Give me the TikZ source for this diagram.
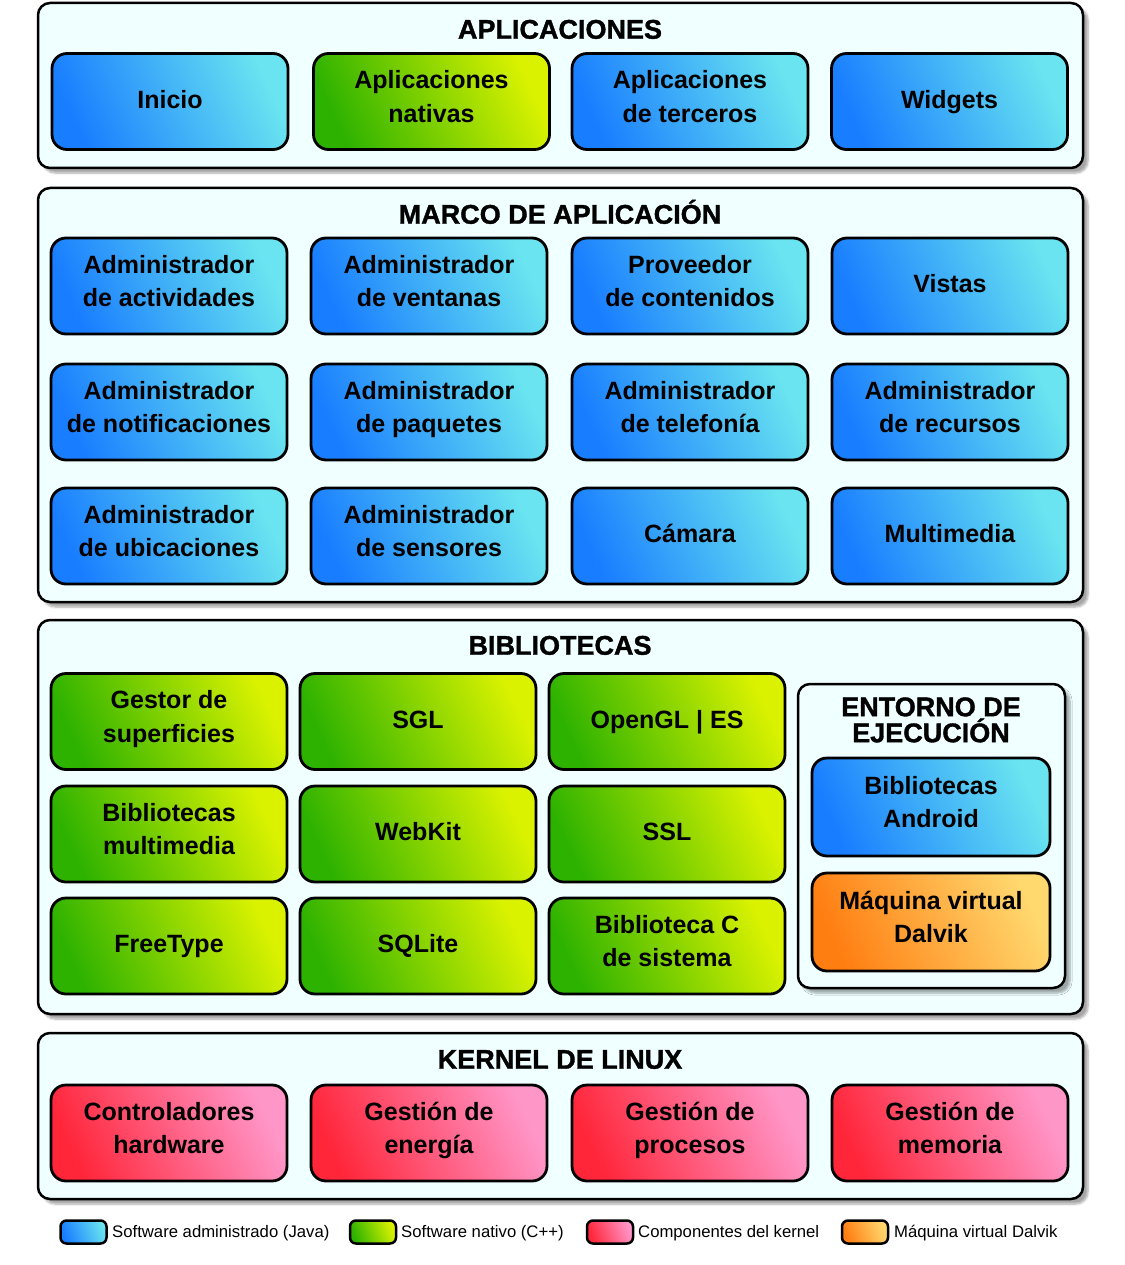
\documentclass[tikz,border=0pt]{standalone}
\usepackage{fontspec}
\setmainfont{Liberation Sans}
\newfontfamily\titlefont[BoldFeatures={FakeBold=1.3}]{Liberation Sans}
\usetikzlibrary{shadows.blur}
\newcommand\boxstrut{\rule[-10.05pt]{0pt}{33.5pt}}
\definecolor{bluedark}{RGB}{25,125,255}
\definecolor{bluelight}{RGB}{105,228,240}
\definecolor{greendark}{RGB}{45,178,0}
\definecolor{greenlight}{RGB}{218,242,0}
\definecolor{reddark}{RGB}{255,38,58}
\definecolor{redlight}{RGB}{255,150,200}
\definecolor{orangedark}{RGB}{255,126,18}
\definecolor{orangelight}{RGB}{255,216,110}
\definecolor{panelfill}{RGB}{240,255,255}
\tikzset{
  panel/.style={draw=black, line width=2.5pt, rounded corners=12pt, fill=panelfill,
    blur shadow={shadow xshift=5pt, shadow yshift=-5pt, shadow opacity=35, shadow blur steps=6}},
  comp/.style={draw=black, line width=2.8pt, rounded corners=15pt, minimum width=236pt,
    minimum height=96pt, align=center, inner sep=0pt,
    font=\fontsize{25}{33.5}\selectfont\bfseries,
    execute at begin node=\boxstrut, execute at end node=\boxstrut},
  javabox/.style={comp, top color=bluelight, bottom color=bluedark, shading angle=-65},
  nativebox/.style={comp, top color=greenlight, bottom color=greendark, shading angle=-65},
  kernelbox/.style={comp, top color=redlight, bottom color=reddark, shading angle=-65},
  dalvikbox/.style={comp, top color=orangelight, bottom color=orangedark, shading angle=-65},
  paneltitle/.style={font=\titlefont\fontsize{27}{26}\selectfont\bfseries, align=center, inner sep=0pt, anchor=base},
  swatch/.style={draw=black, line width=2.5pt, rounded corners=6pt, minimum width=46pt,
    minimum height=23pt, inner sep=0pt},
  legtext/.style={anchor=west, inner sep=0pt, font=\fontsize{16.7}{18}\selectfont}
}
\begin{document}
\begin{tikzpicture}[x=1pt,y=-1pt]
\useasboundingbox (0,0) rectangle (1124,1265);
% panels
\node[panel, minimum width=1045pt, minimum height=165pt] (papp) at (560.5,85.5) {};
\node[panel, minimum width=1045pt, minimum height=414pt] (pfw) at (560.5,395) {};
\node[panel, minimum width=1045pt, minimum height=394pt] (plib) at (560.5,817) {};
\node[panel, minimum width=1045pt, minimum height=166pt] (pker) at (560.5,1116) {};
\node[panel, minimum width=267pt, minimum height=304pt] (prt) at (931.5,836) {};
% titles
\node[paneltitle] (tapp) at (560,38.7) {APLICACIONES};
\node[paneltitle] (tfw) at (560,223.7) {MARCO DE APLICACIÓN};
\node[paneltitle] (tlib) at (560,654.7) {BIBLIOTECAS};
\node[paneltitle] (tker) at (560,1068.7) {KERNEL DE LINUX};
\node[paneltitle, anchor=base] (trt1) at (931,716.2) {ENTORNO DE};
\node[paneltitle, anchor=base] (trt2) at (931,742.2) {EJECUCIÓN};
% applications
\node[javabox] (a1) at (170,101.5) {Inicio};
\node[nativebox] (a2) at (431.5,101.5) {Aplicaciones\\nativas};
\node[javabox] (a3) at (690,101.5) {Aplicaciones\\de terceros};
\node[javabox] (a4) at (949.5,101.5) {Widgets};
% framework
\node[javabox] (f1) at (169,286) {Administrador\\de actividades};
\node[javabox] (f2) at (429,286) {Administrador\\de ventanas};
\node[javabox] (f3) at (690,286) {Proveedor\\de contenidos};
\node[javabox] (f4) at (950,286) {Vistas};
\node[javabox] (f5) at (169,412) {Administrador\\de notificaciones};
\node[javabox] (f6) at (429,412) {Administrador\\de paquetes};
\node[javabox] (f7) at (690,412) {Administrador\\de telefonía};
\node[javabox] (f8) at (950,412) {Administrador\\de recursos};
\node[javabox] (f9) at (169,536) {Administrador\\de ubicaciones};
\node[javabox] (f10) at (429,536) {Administrador\\de sensores};
\node[javabox] (f11) at (690,536) {Cámara};
\node[javabox] (f12) at (950,536) {Multimedia};
% libraries
\node[nativebox] (l1) at (169,721.5) {Gestor de\\superficies};
\node[nativebox] (l2) at (418,721.5) {SGL};
\node[nativebox] (l3) at (667,721.5) {OpenGL | ES};
\node[nativebox] (l4) at (169,834) {Bibliotecas\\multimedia};
\node[nativebox] (l5) at (418,834) {WebKit};
\node[nativebox] (l6) at (667,834) {SSL};
\node[nativebox] (l7) at (169,946) {FreeType};
\node[nativebox] (l8) at (418,946) {SQLite};
\node[nativebox] (l9) at (667,946) {Biblioteca C\\de sistema};
% runtime
\node[javabox, minimum width=238pt, minimum height=98pt] (r1) at (931,807) {Bibliotecas\\Android};
\node[dalvikbox, minimum width=238pt, minimum height=98pt] (r2) at (931,922) {Máquina virtual\\Dalvik};
% kernel
\node[kernelbox] (k1) at (169,1133) {Controladores\\hardware};
\node[kernelbox] (k2) at (429,1133) {Gestión de\\energía};
\node[kernelbox] (k3) at (690,1133) {Gestión de\\procesos};
\node[kernelbox] (k4) at (950,1133) {Gestión de\\memoria};
% legend
\node[swatch, top color=bluelight, bottom color=bluedark, shading angle=-70] (s1) at (83.5,1232) {};
\node[legtext] (t1) at (112,1233.5) {Software administrado (Java)};
\node[swatch, top color=greenlight, bottom color=greendark, shading angle=-70] (s2) at (373,1232) {};
\node[legtext] (t2) at (401,1233.5) {Software nativo (C++)};
\node[swatch, top color=redlight, bottom color=reddark, shading angle=-70] (s3) at (610,1232) {};
\node[legtext] (t3) at (638,1233.5) {Componentes del kernel};
\node[swatch, top color=orangelight, bottom color=orangedark, shading angle=-70] (s4) at (865,1232) {};
\node[legtext] (t4) at (894,1233.5) {Máquina virtual Dalvik};
\end{tikzpicture}
\end{document}
